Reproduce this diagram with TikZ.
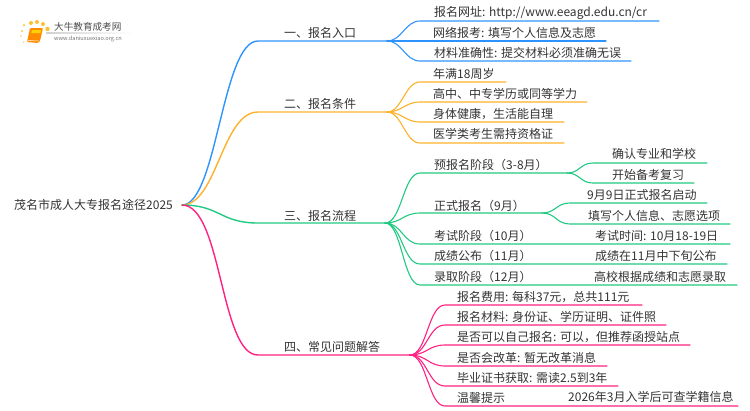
\documentclass[tikz,border=0pt]{standalone}
\usepackage{fontspec}
\setmainfont{Noto Sans CJK SC}
\definecolor{cblue}{HTML}{2F93FF}
\definecolor{corange}{HTML}{FDB22B}
\definecolor{cgreen}{HTML}{22C983}
\definecolor{cpink}{HTML}{FF2283}
\definecolor{ctext}{HTML}{333333}
\tikzset{
  lbl/.style={anchor=west,inner sep=0pt,text=ctext,text height=10pt,text depth=1pt,font=\fontsize{12}{12}\selectfont},
  conn/.style={line width=1.1pt,line cap=round},
  trunk/.style={line width=1.4pt,line cap=round},
}
\begin{document}
\begin{tikzpicture}[x=1pt,y=-1pt]
\useasboundingbox (0,0) rectangle (750,410);
% ---- logo
\foreach \px/\py/\pr/\pc in {24/25/1.5/FDD66B,31/23/2/FBC02D,37/22/2/FBC02D,43/24/2/FBC02D,47.5/29/2.2/FBC02D,22/31/1.3/FDD66B,21/36/1.2/FDE08F,23.5/42/1/FDE08F}{
  \definecolor{tmpc}{HTML}{\pc}
  \fill[tmpc] (\px,\py) circle (\pr);
}
\fill[rounded corners=1pt,fill=orange!90!yellow] (30,28) -- (43,28) -- (40,41) -- (38,43) -- (27,42) -- cycle;
\fill[fill=yellow!70!orange] (32,30) -- (41,30) -- (40.5,33) -- (31.3,33) -- cycle;
\draw[white,line width=0.5pt] (28,40.5) -- (38.5,41);
\node[anchor=west,inner sep=0pt,text=black!70,font=\fontsize{9.6}{10}\selectfont] (logotitle) at (54,27) {大牛教育成考网};
\node[anchor=west,inner sep=0pt,text=black!55,font=\fontsize{5.6}{6}\selectfont] (logourl) at (54,38.5) {www.daniuxuexiao.org.cn};
\shade[left color=black!18,right color=white] (46,32.8) rectangle (133,33.4);
% ---- root
\node[lbl] (root) at (14,205) {茂名市成人大专报名途径2025};
\coordinate (r) at (182,205);
% ---- blue
\coordinate (b1a) at (258,41); \coordinate (b1j) at (387,41);
\coordinate (b1c1) at (420,21); \coordinate (b1c1e) at (659,21);
\coordinate (b1c2e) at (606,41);
\coordinate (b1c3) at (420,61); \coordinate (b1c3e) at (631,61);
\draw[trunk,cblue] (r) .. controls +(35,0) and +(-36,0) .. (b1a) -- (b1j);
\draw[conn,cblue] (b1j) .. controls +(15,0) and +(-15,0) .. (b1c1) -- (b1c1e);
\draw[conn,cblue] (b1j) -- (b1c2e);
\draw[conn,cblue] (b1j) .. controls +(15,0) and +(-15,0) .. (b1c3) -- (b1c3e);
\node[lbl] (n1) at (284,32.5) {一、报名入口};
\node[lbl] (n11) at (434,12) {报名网址: http://www.eeagd.edu.cn/cr};
\node[lbl] (n12) at (433,33) {网络报考: 填写个人信息及志愿};
\node[lbl] (n13) at (434,53) {材料准确性: 提交材料必须准确无误};
% ---- orange
\coordinate (b2a) at (258,112); \coordinate (b2j) at (387,112);
\coordinate (b2c1) at (420,82); \coordinate (b2c1e) at (506,82);
\coordinate (b2c2) at (420,102); \coordinate (b2c2e) at (587,102);
\coordinate (b2c3) at (420,122); \coordinate (b2c3e) at (564,122);
\coordinate (b2c4) at (420,143); \coordinate (b2c4e) at (564,143);
\draw[trunk,corange] (r) .. controls +(35,0) and +(-36,0) .. (b2a) -- (b2j);
\foreach \c in {1,2,3,4}{
  \draw[conn,corange] (b2j) .. controls +(15,0) and +(-15,0) .. (b2c\c) -- (b2c\c e);
}
\node[lbl] (n2) at (284,104) {二、报名条件};
\node[lbl] (n21) at (433,74) {年满18周岁};
\node[lbl] (n22) at (433,94) {高中、中专学历或同等学力};
\node[lbl] (n23) at (433,114) {身体健康，生活能自理};
\node[lbl] (n24) at (433,134) {医学类考生需持资格证};
% ---- green
\coordinate (b3a) at (258,223); \coordinate (b3j) at (385,223);
\coordinate (g1) at (420,173); \coordinate (g1j) at (567,173);
\coordinate (g2) at (420,213); \coordinate (g2j) at (542,213);
\coordinate (g3) at (420,244); \coordinate (g3e) at (730,244);
\coordinate (g4) at (420,264); \coordinate (g4e) at (727,264);
\coordinate (g5) at (420,285); \coordinate (g5e) at (737,285);
\coordinate (g11) at (593,163); \coordinate (g11e) at (707,163);
\coordinate (g12) at (593,183); \coordinate (g12e) at (694,183);
\coordinate (g21) at (570,203); \coordinate (g21e) at (707,203);
\coordinate (g22) at (570,224); \coordinate (g22e) at (730,224);
\draw[trunk,cgreen] (r) .. controls +(38,0) and +(-38,0) .. (b3a) -- (b3j);
\draw[conn,cgreen] (b3j) .. controls +(17,0) and +(-17,0) .. (g1) -- (g1j);
\draw[conn,cgreen] (b3j) .. controls +(17,0) and +(-17,0) .. (g2) -- (g2j);
\draw[conn,cgreen] (b3j) .. controls +(17,0) and +(-17,0) .. (g3) -- (g3e);
\draw[conn,cgreen] (b3j) .. controls +(17,0) and +(-17,0) .. (g4) -- (g4e);
\draw[conn,cgreen] (b3j) .. controls +(17,0) and +(-17,0) .. (g5) -- (g5e);
\draw[conn,cgreen] (g1j) .. controls +(13,0) and +(-13,0) .. (g11) -- (g11e);
\draw[conn,cgreen] (g1j) .. controls +(13,0) and +(-13,0) .. (g12) -- (g12e);
\draw[conn,cgreen] (g2j) .. controls +(14,0) and +(-14,0) .. (g21) -- (g21e);
\draw[conn,cgreen] (g2j) .. controls +(14,0) and +(-14,0) .. (g22) -- (g22e);
\node[lbl] (n3) at (284,216) {三、报名流程};
\node[lbl] (n31) at (434,165) {预报名阶段（3-8月）};
\node[lbl] (n32) at (434,206) {正式报名（9月）};
\node[lbl] (n33) at (434,236) {考试阶段（10月）};
\node[lbl] (n34) at (434,256) {成绩公布（11月）};
\node[lbl] (n35) at (434,277) {录取阶段（12月）};
\node[lbl] (n311) at (612,154) {确认专业和学校};
\node[lbl] (n312) at (612,175) {开始备考复习};
\node[lbl] (n321) at (587,195) {9月9日正式报名启动};
\node[lbl] (n322) at (588,216) {填写个人信息、志愿选项};
\node[lbl] (n331) at (595,236) {考试时间: 10月18-19日};
\node[lbl] (n341) at (595,256) {成绩在11月中下旬公布};
\node[lbl] (n351) at (594,277) {高校根据成绩和志愿录取};
% ---- pink
\coordinate (b4a) at (258,355); \coordinate (b4j) at (410,355);
\coordinate (p1) at (445,305); \coordinate (p1e) at (642,305);
\coordinate (p2) at (445,325); \coordinate (p2e) at (666,325);
\coordinate (p3) at (445,345); \coordinate (p3e) at (690,345);
\coordinate (p4) at (445,366); \coordinate (p4e) at (607,366);
\coordinate (p5) at (445,386); \coordinate (p5e) at (618,386);
\coordinate (p6) at (445,406); \coordinate (p6e) at (738,406);
\draw[trunk,cpink] (r) .. controls +(40,0) and +(-38,0) .. (b4a) -- (b4j);
\foreach \c in {1,...,6}{
  \draw[conn,cpink] (b4j) .. controls +(17,0) and +(-17,0) .. (p\c) -- (p\c e);
}
\node[lbl] (n4) at (284,347) {四、常见问题解答};
\node[lbl] (n41) at (457,297) {报名费用: 每科37元，总共111元};
\node[lbl] (n42) at (457,317) {报名材料: 身份证、学历证明、证件照};
\node[lbl] (n43) at (457,337) {是否可以自己报名: 可以，但推荐函授站点};
\node[lbl] (n44) at (457,358) {是否会改革: 暂无改革消息};
\node[lbl] (n45) at (457,378) {毕业证书获取: 需读2.5到3年};
\node[lbl] (n46) at (457,398) {温馨提示};
\node[lbl] (n461) at (568,397) {2026年3月入学后可查学籍信息};
\end{tikzpicture}
\end{document}
